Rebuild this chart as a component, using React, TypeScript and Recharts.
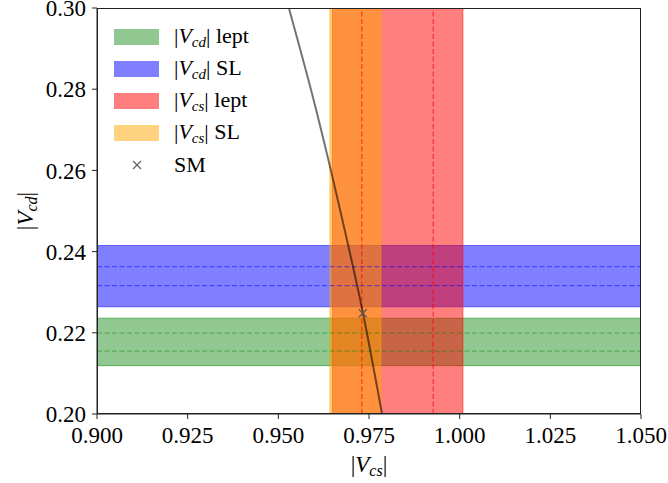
import React from 'react';
import {
  ComposedChart, XAxis, YAxis, ReferenceArea, ReferenceLine, Line, Scatter,
} from 'recharts';

// ---- data ----
const xTicks = [0.9, 0.925, 0.95, 0.975, 1.0, 1.025, 1.05];
const yTicks = [0.2, 0.22, 0.24, 0.26, 0.28, 0.3];
const xDomain = [0.9, 1.05];
const yDomain = [0.2, 0.3];

const seriesNames = ['lept', 'SL', 'lept', 'SL', 'SM'];
const seriesSubs = ['cd', 'cd', 'cs', 'cs', ''];
const seriesColors = ['#008000', '#0000ff', '#ff0000', '#ffa500', '#666666'];

const vcdLeptRange = [0.2119, 0.2236];
const vcdLeptInner = [0.2155, 0.2199];
const vcdSLRange = [0.2264, 0.2415];
const vcdSLInner = [0.2316, 0.2363];
const vcsLeptRange = [0.9649, 1.0009];
const vcsLeptInner = [0.973, 0.9927];
const vcsSLRange = [0.9642, 0.9783];

const curveVcs = [0.9529, 0.9604, 0.9671, 0.9733, 0.9786];
const curveVcd = [0.3, 0.275, 0.25, 0.225, 0.2];
const smVcs = [0.9733];
const smVcd = [0.2248];

const curveData = curveVcs.map((v, i) => ({ vcs: v, vcd: curveVcd[i] }));
const smData = smVcs.map((v, i) => ({ vcs: v, vcd: smVcd[i] }));

const FONT = '"Liberation Serif", "Times New Roman", serif';

const VLabel = ({ x, y, sub, rotate }: any) => (
  <text
    x={x}
    y={y}
    textAnchor="middle"
    fontFamily={FONT}
    fontSize={23}
    fill="#000"
    transform={rotate ? `rotate(-90 ${x} ${y})` : undefined}
  >
    <tspan>|</tspan>
    <tspan fontStyle="italic">V</tspan>
    <tspan fontStyle="italic" fontSize={16} dy={4}>{sub}</tspan>
    <tspan dy={-4}>|</tspan>
  </text>
);

const CrossShape = (props: any) => {
  const { cx, cy } = props;
  const s = 4;
  return (
    <g stroke="#555" strokeWidth={1.4} strokeOpacity={0.85}>
      <line x1={cx - s} y1={cy - s} x2={cx + s} y2={cy + s} />
      <line x1={cx - s} y1={cy + s} x2={cx + s} y2={cy - s} />
    </g>
  );
};

const LegendBox = () => (
  <div style={{ position: 'absolute', left: 114, top: 21, fontFamily: FONT, fontSize: 22, color: '#000', lineHeight: '32px' }}>
    {seriesNames.map((name, i) => (
      <div key={i} style={{ display: 'flex', alignItems: 'center', height: 32 }}>
        <div style={{ width: 45, height: 16, display: 'flex', alignItems: 'center', justifyContent: 'center' }}>
          {i < 4 ? (
            <div style={{ width: 45, height: 16, background: seriesColors[i], opacity: i === 0 ? 0.43 : 0.5 }} />
          ) : (
            <svg width={12} height={12}>
              <g stroke="#666" strokeWidth={1.2}>
                <line x1={2} y1={2} x2={10} y2={10} />
                <line x1={2} y1={10} x2={10} y2={2} />
              </g>
            </svg>
          )}
        </div>
        <div style={{ marginLeft: 15, whiteSpace: 'nowrap' }}>
          {i < 4 ? (
            <span>
              |<i>V</i>
              <i style={{ fontSize: 15, position: 'relative', top: 4 }}>{seriesSubs[i]}</i>| {name}
            </span>
          ) : (
            <span>{name}</span>
          )}
        </div>
      </div>
    ))}
  </div>
);

const bandStroke = { strokeOpacity: 0.5, strokeWidth: 1 };
const dash = '5 2.5';

export default function App() {
  return (
    <div style={{ position: 'absolute', left: 0, top: 0, width: 668, height: 483, background: '#fff' }}>
      <ComposedChart
        width={668}
        height={483}
        margin={{ top: 8, right: 27, bottom: 0, left: 0 }}
      >
        <XAxis
          dataKey="vcs"
          type="number"
          domain={xDomain}
          ticks={xTicks}
          allowDataOverflow
          tickFormatter={(v: number) => v.toFixed(3)}
          tick={{ fontSize: 23, fill: '#000', fontFamily: FONT }}
          tickSize={5}
          tickMargin={8}
          height={69}
          stroke="#222"
          interval={0}
          label={{ content: (p: any) => <VLabel x={p.viewBox.x + p.viewBox.width / 2} y={472} sub="cs" /> }}
        />
        <YAxis
          dataKey="vcd"
          type="number"
          domain={yDomain}
          ticks={yTicks}
          allowDataOverflow
          tickFormatter={(v: number) => v.toFixed(2)}
          tick={{ fontSize: 23, fill: '#000', fontFamily: FONT }}
          tickSize={5}
          tickMargin={6}
          width={97}
          stroke="#222"
          interval={0}
        />

        <ReferenceArea y1={vcdLeptRange[0]} y2={vcdLeptRange[1]} x1={xDomain[0]} x2={xDomain[1]}
          fill={seriesColors[0]} fillOpacity={0.43} stroke={seriesColors[0]} {...bandStroke} ifOverflow="hidden" />
        <ReferenceArea y1={vcdSLRange[0]} y2={vcdSLRange[1]} x1={xDomain[0]} x2={xDomain[1]}
          fill={seriesColors[1]} fillOpacity={0.5} stroke={seriesColors[1]} {...bandStroke} ifOverflow="hidden" />
        <ReferenceArea x1={vcsLeptRange[0]} x2={vcsLeptRange[1]} y1={yDomain[0]} y2={yDomain[1]}
          fill={seriesColors[2]} fillOpacity={0.5} stroke={seriesColors[2]} {...bandStroke} ifOverflow="hidden" />
        <ReferenceArea x1={vcsSLRange[0]} x2={vcsSLRange[1]} y1={yDomain[0]} y2={yDomain[1]}
          fill={seriesColors[3]} fillOpacity={0.5} stroke={seriesColors[3]} {...bandStroke} ifOverflow="hidden" />

        {vcdLeptInner.map((v, i) => (
          <ReferenceLine key={'g' + i} y={v} stroke={seriesColors[0]} strokeOpacity={0.4} strokeDasharray={dash} strokeWidth={1.3} />
        ))}
        {vcdSLInner.map((v, i) => (
          <ReferenceLine key={'b' + i} y={v} stroke={seriesColors[1]} strokeOpacity={0.45} strokeDasharray={dash} strokeWidth={1.3} />
        ))}
        {vcsLeptInner.map((v, i) => (
          <ReferenceLine key={'r' + i} x={v} stroke={seriesColors[2]} strokeOpacity={0.55} strokeDasharray={dash} strokeWidth={1.4} />
        ))}

        <Line
          data={curveData}
          dataKey="vcd"
          type="monotone"
          stroke="#000"
          strokeOpacity={0.55}
          strokeWidth={2}
          dot={false}
          activeDot={false}
          isAnimationActive={false}
          legendType="none"
        />
        <Scatter data={smData} dataKey="vcd" shape={<CrossShape />} isAnimationActive={false} legendType="none" />

        <VLabel x={33} y={211} sub="cd" rotate />
      </ComposedChart>
      <div style={{ position: 'absolute', left: 97, top: 8, width: 544, height: 406, boxSizing: 'border-box', border: '1px solid #222', pointerEvents: 'none' }} />
      <LegendBox />
    </div>
  );
}
